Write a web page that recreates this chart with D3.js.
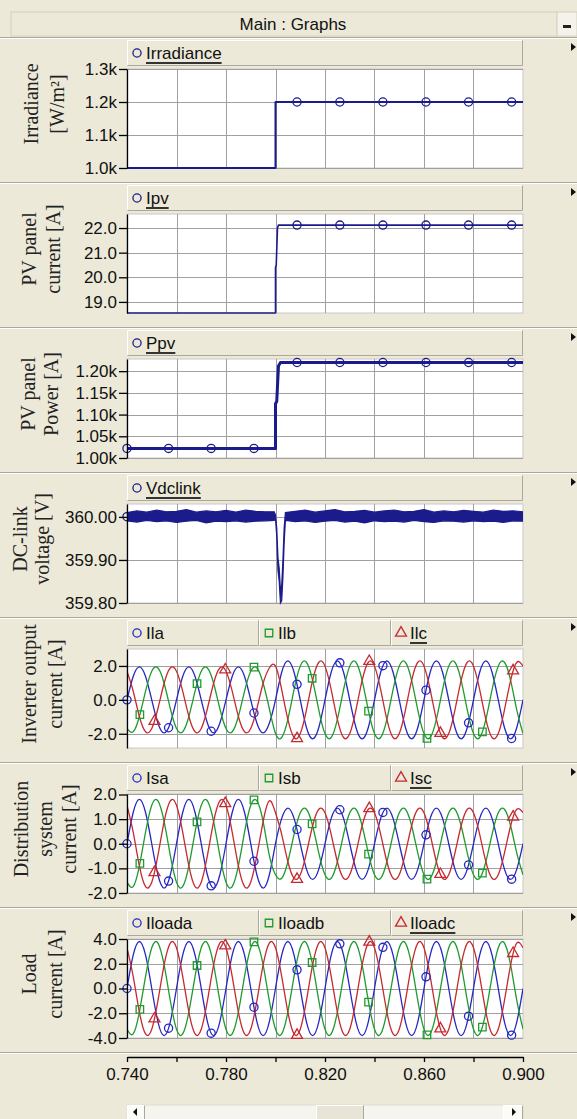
<!DOCTYPE html>
<html>
<head>
<meta charset="utf-8">
<script src="https://cdn.jsdelivr.net/npm/d3@7"></script>
<style>
  html, body { margin: 0; padding: 0; background: #ece9d8; }
  svg { display: block; }
</style>
</head>
<body>
<div id="chart"></div>
<script>
// ---- time axis ----
var xDomain = [0.74, 0.90];
var xGridTicks = [0.74, 0.76, 0.78, 0.80, 0.82, 0.84, 0.86, 0.88, 0.90];
var xLabelTicks = [0.74, 0.78, 0.82, 0.86, 0.90];

// ---- step signals ----
var irrTime = [0.74, 0.80, 0.80, 0.90];
var irrValue = [1000, 1000, 1200, 1200];
var ipvTime = [0.74, 0.80, 0.80, 0.8003, 0.8008, 0.8012, 0.90];
var ipvValue = [18.55, 18.55, 20.4, 20.5, 22.0, 22.12, 22.12];
var ppvTime = [0.74, 0.80, 0.80, 0.8005, 0.8012, 0.802, 0.90];
var ppvValue = [1022, 1022, 1125, 1130, 1212, 1220, 1220];

// ---- DC-link voltage (noise band envelope) ----
var vdcTime = [0.740, 0.744, 0.748, 0.752, 0.756, 0.760, 0.764, 0.768, 0.772, 0.776,
  0.780, 0.784, 0.788, 0.792, 0.796, 0.7995, 0.8000, 0.8005, 0.8010, 0.8015,
  0.8020, 0.8025, 0.8030, 0.8035, 0.8040, 0.808, 0.812, 0.816, 0.820, 0.824,
  0.828, 0.832, 0.836, 0.840, 0.844, 0.848, 0.852, 0.856, 0.860, 0.864,
  0.868, 0.872, 0.876, 0.880, 0.884, 0.888, 0.892, 0.896, 0.900];
var vdcHigh = [360.010, 360.014, 360.011, 360.016, 360.012, 360.013, 360.017, 360.011, 360.014, 360.012,
  360.015, 360.011, 360.016, 360.013, 360.012, 360.012, 360.004, 359.975, 359.905, 359.880,
  359.830, 359.840, 359.900, 359.975, 360.010, 360.013, 360.016, 360.011, 360.014, 360.017,
  360.012, 360.013, 360.015, 360.011, 360.014, 360.016, 360.012, 360.013, 360.017, 360.011,
  360.014, 360.012, 360.015, 360.013, 360.011, 360.016, 360.013, 360.014, 360.012];
var vdcLow = [359.991, 359.988, 359.992, 359.989, 359.991, 359.987, 359.990, 359.992, 359.986, 359.990,
  359.989, 359.991, 359.988, 359.990, 359.991, 359.992, 359.996, 359.955, 359.875, 359.850,
  359.800, 359.805, 359.860, 359.940, 359.992, 359.989, 359.991, 359.987, 359.990, 359.992,
  359.988, 359.990, 359.986, 359.991, 359.989, 359.990, 359.988, 359.992, 359.989, 359.987,
  359.991, 359.990, 359.988, 359.991, 359.989, 359.990, 359.987, 359.991, 359.990];

// ---- three-phase currents, sampled every 2.5 ms ----
var waveTime = [0.7400, 0.7425, 0.7450, 0.7475, 0.7500, 0.7525, 0.7550, 0.7575,
  0.7600, 0.7625, 0.7650, 0.7675, 0.7700, 0.7725, 0.7750, 0.7775,
  0.7800, 0.7825, 0.7850, 0.7875, 0.7900, 0.7925, 0.7950, 0.7975,
  0.8000, 0.8025, 0.8050, 0.8075, 0.8100, 0.8125, 0.8150, 0.8175,
  0.8200, 0.8225, 0.8250, 0.8275, 0.8300, 0.8325, 0.8350, 0.8375,
  0.8400, 0.8425, 0.8450, 0.8475, 0.8500, 0.8525, 0.8550, 0.8575,
  0.8600, 0.8625, 0.8650, 0.8675, 0.8700, 0.8725, 0.8750, 0.8775,
  0.8800, 0.8825, 0.8850, 0.8875, 0.8900, 0.8925, 0.8950, 0.8975,
  0.9000];

var ila = [0, 1.38, 1.95, 1.38, 0, -1.38, -1.95, -1.38,
  0, 1.38, 1.95, 1.38, 0, -1.38, -1.95, -1.38,
  0, 1.38, 1.95, 1.38, 0, -1.38, -1.95, -1.38,
  0, 1.63, 2.3, 1.63, 0, -1.63, -2.3, -1.63,
  0, 1.63, 2.3, 1.63, 0, -1.63, -2.3, -1.63,
  0, 1.63, 2.3, 1.63, 0, -1.63, -2.3, -1.63,
  0, 1.63, 2.3, 1.63, 0, -1.63, -2.3, -1.63,
  0, 1.63, 2.3, 1.63, 0, -1.63, -2.3, -1.63,
  0];
var ilb = [-1.69, -1.88, -0.98, 0.51, 1.69, 1.88, 0.98, -0.51,
  -1.69, -1.88, -0.98, 0.51, 1.69, 1.88, 0.98, -0.51,
  -1.69, -1.88, -0.98, 0.51, 1.69, 1.88, 0.98, -0.51,
  -1.99, -2.22, -1.15, 0.6, 1.99, 2.22, 1.15, -0.6,
  -1.99, -2.22, -1.15, 0.6, 1.99, 2.22, 1.15, -0.6,
  -1.99, -2.22, -1.15, 0.6, 1.99, 2.22, 1.15, -0.6,
  -1.99, -2.22, -1.15, 0.6, 1.99, 2.22, 1.15, -0.6,
  -1.99, -2.22, -1.15, 0.6, 1.99, 2.22, 1.15, -0.6,
  -1.99];
var ilc = [1.69, 0.51, -0.98, -1.88, -1.69, -0.51, 0.98, 1.88,
  1.69, 0.51, -0.98, -1.88, -1.69, -0.51, 0.98, 1.88,
  1.69, 0.51, -0.98, -1.88, -1.69, -0.51, 0.98, 1.88,
  1.99, 0.6, -1.15, -2.22, -1.99, -0.6, 1.15, 2.22,
  1.99, 0.6, -1.15, -2.22, -1.99, -0.6, 1.15, 2.22,
  1.99, 0.6, -1.15, -2.22, -1.99, -0.6, 1.15, 2.22,
  1.99, 0.6, -1.15, -2.22, -1.99, -0.6, 1.15, 2.22,
  1.99, 0.6, -1.15, -2.22, -1.99, -0.6, 1.15, 2.22,
  1.99];

var isa = [0, 1.27, 1.8, 1.27, 0, -1.27, -1.8, -1.27,
  0, 1.27, 1.8, 1.27, 0, -1.27, -1.8, -1.27,
  0, 1.27, 1.8, 1.27, 0, -1.27, -1.8, -1.27,
  0, 1.03, 1.45, 1.03, 0, -1.03, -1.45, -1.03,
  0, 1.03, 1.45, 1.03, 0, -1.03, -1.45, -1.03,
  0, 1.03, 1.45, 1.03, 0, -1.03, -1.45, -1.03,
  0, 1.03, 1.45, 1.03, 0, -1.03, -1.45, -1.03,
  0, 1.03, 1.45, 1.03, 0, -1.03, -1.45, -1.03,
  0];
var isb = [-1.56, -1.74, -0.9, 0.47, 1.56, 1.74, 0.9, -0.47,
  -1.56, -1.74, -0.9, 0.47, 1.56, 1.74, 0.9, -0.47,
  -1.56, -1.74, -0.9, 0.47, 1.56, 1.74, 0.9, -0.47,
  -1.26, -1.4, -0.73, 0.38, 1.26, 1.4, 0.73, -0.38,
  -1.26, -1.4, -0.73, 0.38, 1.26, 1.4, 0.73, -0.38,
  -1.26, -1.4, -0.73, 0.38, 1.26, 1.4, 0.73, -0.38,
  -1.26, -1.4, -0.73, 0.38, 1.26, 1.4, 0.73, -0.38,
  -1.26, -1.4, -0.73, 0.38, 1.26, 1.4, 0.73, -0.38,
  -1.26];
var isc = [1.56, 0.47, -0.9, -1.74, -1.56, -0.47, 0.9, 1.74,
  1.56, 0.47, -0.9, -1.74, -1.56, -0.47, 0.9, 1.74,
  1.56, 0.47, -0.9, -1.74, -1.56, -0.47, 0.9, 1.74,
  1.26, 0.38, -0.73, -1.4, -1.26, -0.38, 0.73, 1.4,
  1.26, 0.38, -0.73, -1.4, -1.26, -0.38, 0.73, 1.4,
  1.26, 0.38, -0.73, -1.4, -1.26, -0.38, 0.73, 1.4,
  1.26, 0.38, -0.73, -1.4, -1.26, -0.38, 0.73, 1.4,
  1.26, 0.38, -0.73, -1.4, -1.26, -0.38, 0.73, 1.4,
  1.26];

var iloada = [0, 2.69, 3.8, 2.69, 0, -2.69, -3.8, -2.69,
  0, 2.69, 3.8, 2.69, 0, -2.69, -3.8, -2.69,
  0, 2.69, 3.8, 2.69, 0, -2.69, -3.8, -2.69,
  0, 2.69, 3.8, 2.69, 0, -2.69, -3.8, -2.69,
  0, 2.69, 3.8, 2.69, 0, -2.69, -3.8, -2.69,
  0, 2.69, 3.8, 2.69, 0, -2.69, -3.8, -2.69,
  0, 2.69, 3.8, 2.69, 0, -2.69, -3.8, -2.69,
  0, 2.69, 3.8, 2.69, 0, -2.69, -3.8, -2.69,
  0];
var iloadb = [-3.29, -3.67, -1.9, 0.98, 3.29, 3.67, 1.9, -0.98,
  -3.29, -3.67, -1.9, 0.98, 3.29, 3.67, 1.9, -0.98,
  -3.29, -3.67, -1.9, 0.98, 3.29, 3.67, 1.9, -0.98,
  -3.29, -3.67, -1.9, 0.98, 3.29, 3.67, 1.9, -0.98,
  -3.29, -3.67, -1.9, 0.98, 3.29, 3.67, 1.9, -0.98,
  -3.29, -3.67, -1.9, 0.98, 3.29, 3.67, 1.9, -0.98,
  -3.29, -3.67, -1.9, 0.98, 3.29, 3.67, 1.9, -0.98,
  -3.29, -3.67, -1.9, 0.98, 3.29, 3.67, 1.9, -0.98,
  -3.29];
var iloadc = [3.29, 0.98, -1.9, -3.67, -3.29, -0.98, 1.9, 3.67,
  3.29, 0.98, -1.9, -3.67, -3.29, -0.98, 1.9, 3.67,
  3.29, 0.98, -1.9, -3.67, -3.29, -0.98, 1.9, 3.67,
  3.29, 0.98, -1.9, -3.67, -3.29, -0.98, 1.9, 3.67,
  3.29, 0.98, -1.9, -3.67, -3.29, -0.98, 1.9, 3.67,
  3.29, 0.98, -1.9, -3.67, -3.29, -0.98, 1.9, 3.67,
  3.29, 0.98, -1.9, -3.67, -3.29, -0.98, 1.9, 3.67,
  3.29, 0.98, -1.9, -3.67, -3.29, -0.98, 1.9, 3.67,
  3.29];

// ---- marker times (PSCAD curve markers) ----
var markTimesA = [0.7400, 0.7568, 0.7740, 0.7913, 0.8087, 0.8260, 0.8434, 0.8608, 0.8780, 0.8954];
var markTimesB = [0.7452, 0.7683, 0.7913, 0.8148, 0.8376, 0.8612, 0.8836];
var markTimesC = [0.7511, 0.7797, 0.8087, 0.8379, 0.8666, 0.8960];

// ---- y ticks ----
var irrTicks = [1000, 1100, 1200, 1300];
var ipvTicks = [19, 20, 21, 22];
var ppvTicks = [1000, 1050, 1100, 1150, 1200];
var vdcTicks = [359.8, 359.9, 360.0];
var invTicks = [-2, 0, 2];
var gridTicks = [-2, -1, 0, 1, 2];
var loadTicks = [-4, -2, 0, 2, 4];

var navy = '#1b1b8c';
var colA = '#2626c2', colB = '#1f9b2e', colC = '#c62a30';

var kFmt1 = function (d) { return (d / 1000).toFixed(1) + 'k'; };
var kFmt2 = function (d) { return (d / 1000).toFixed(2) + 'k'; };
var f1 = function (d) { return d.toFixed(1); };
var f2 = function (d) { return d.toFixed(2); };

var panels = [
  {title: ['Irradiance', '[W/m\u00b2]'], tx: 31, tgap: 26, domain: [1000, 1300], ticks: irrTicks, fmt: kFmt1,
    series: [{name: 'Irradiance', time: irrTime, value: irrValue, color: navy, width: 2, sym: 'circle', marks: markTimesA}]},
  {title: ['PV panel', 'current [A]'], tx: 29, tgap: 24, domain: [18.55, 22.57], ticks: ipvTicks, fmt: f1,
    series: [{name: 'Ipv', time: ipvTime, value: ipvValue, color: navy, width: 1.6, sym: 'circle', marks: markTimesA}]},
  {title: ['PV panel', 'Power [A]'], tx: 28, tgap: 23, domain: [1000, 1228], ticks: ppvTicks, fmt: kFmt2,
    series: [{name: 'Ppv', time: ppvTime, value: ppvValue, color: navy, width: 3, sym: 'circle', marks: markTimesA}]},
  {title: ['DC-link', 'voltage [V]'], tx: 20, tgap: 22, domain: [359.80, 360.03], ticks: vdcTicks, fmt: f2,
    series: [{name: 'Vdclink', band: true, time: vdcTime, high: vdcHigh, low: vdcLow, color: navy, width: 1.2, sym: 'circle', marks: markTimesA}]},
  {title: ['Inverter output', 'current [A]'], tx: 29, tgap: 26, domain: [-2.84, 3.0], ticks: invTicks, fmt: f1,
    series: [
      {name: 'Ila', time: waveTime, value: ila, color: colA, width: 1.3, sym: 'circle', marks: markTimesA, smooth: true},
      {name: 'Ilb', time: waveTime, value: ilb, color: colB, width: 1.3, sym: 'square', marks: markTimesB, smooth: true},
      {name: 'Ilc', time: waveTime, value: ilc, color: colC, width: 1.3, sym: 'triangle', marks: markTimesC, smooth: true}]},
  {title: ['Distribution', 'system', 'current [A]'], tx: 21, tgap: 24, domain: [-2, 2.02], ticks: gridTicks, fmt: f1,
    series: [
      {name: 'Isa', time: waveTime, value: isa, color: colA, width: 1.3, sym: 'circle', marks: markTimesA, smooth: true},
      {name: 'Isb', time: waveTime, value: isb, color: colB, width: 1.3, sym: 'square', marks: markTimesB, smooth: true},
      {name: 'Isc', time: waveTime, value: isc, color: colC, width: 1.3, sym: 'triangle', marks: markTimesC, smooth: true}]},
  {title: ['Load', 'current [A]'], tx: 29, tgap: 26, domain: [-4, 4], ticks: loadTicks, fmt: f1,
    series: [
      {name: 'Iloada', time: waveTime, value: iloada, color: colA, width: 1.3, sym: 'circle', marks: markTimesA, smooth: true},
      {name: 'Iloadb', time: waveTime, value: iloadb, color: colB, width: 1.3, sym: 'square', marks: markTimesB, smooth: true},
      {name: 'Iloadc', time: waveTime, value: iloadc, color: colC, width: 1.3, sym: 'triangle', marks: markTimesC, smooth: true}]}
];

var W = 577, H = 1119;
var px0 = 127, px1 = 523;
var panelStart = 37, panelStep = 145;

var svg = d3.select('#chart').append('svg')
    .attr('width', W)
    .attr('height', H)
    .style('font-family', '"Liberation Sans", Arial, sans-serif');

svg.append('rect').attr('width', W).attr('height', H).attr('fill', '#ece9d8');

var x = d3.scaleLinear().domain(xDomain).range([px0, px1]);

var symbols = {circle: d3.symbolCircle, square: d3.symbolSquare, triangle: d3.symbolTriangle};
var symSize = {circle: 52, square: 56, triangle: 52};

function separator(y) {
  svg.append('line').attr('x1', 0).attr('x2', W).attr('y1', y + 0.5).attr('y2', y + 0.5)
    .attr('stroke', '#aca899');
  svg.append('line').attr('x1', 0).attr('x2', W).attr('y1', y + 1.5).attr('y2', y + 1.5)
    .attr('stroke', '#ffffff');
}

function bevel(g, bx, by, bw, bh, fill) {
  g.append('rect').attr('x', bx).attr('y', by).attr('width', bw).attr('height', bh)
    .attr('fill', fill);
  g.append('path').attr('fill', 'none').attr('stroke', '#ffffff')
    .attr('d', 'M' + (bx + 0.5) + ',' + (by + bh - 1) + 'V' + (by + 0.5) + 'H' + (bx + bw - 1));
  g.append('path').attr('fill', 'none').attr('stroke', '#aca899')
    .attr('d', 'M' + (bx + 0.5) + ',' + (by + bh - 0.5) + 'H' + (bx + bw - 0.5) + 'V' + (by + 0.5));
}

function yOnPath(node, target) {
  var lo = 0, hi = node.getTotalLength();
  for (var k = 0; k < 28; k++) {
    var mid = (lo + hi) / 2;
    if (node.getPointAtLength(mid).x < target) lo = mid; else hi = mid;
  }
  return node.getPointAtLength((lo + hi) / 2).y;
}

// Title bar
svg.append('rect').attr('x', 11).attr('y', 12).attr('width', 546).attr('height', 24)
  .attr('fill', '#ece9d8').attr('stroke', '#d4d0c0');
svg.append('text').attr('x', 293).attr('y', 24).attr('dy', '0.35em')
  .attr('text-anchor', 'middle').style('font-size', '17px').attr('fill', '#111')
  .text('Main : Graphs');
svg.append('rect').attr('x', 557).attr('y', 12).attr('width', 20).attr('height', 24)
  .attr('fill', '#f4f2ea').attr('stroke', '#d4d0c0');
svg.append('rect').attr('x', 563).attr('y', 25).attr('width', 8).attr('height', 3).attr('fill', '#222');
separator(panelStart);

panels.forEach(function (p, i) {
  var top = panelStart + panelStep * i;
  var ly = top + 3, lh = 26;
  var py0 = top + 32, py1 = top + 131;
  var y = d3.scaleLinear().domain(p.domain).range([py1, py0]);
  var g = svg.append('g');

  // Legend bar
  var n = p.series.length, cw = (px1 - px0) / n;
  p.series.forEach(function (s, j) {
    var cx = px0 + j * cw;
    bevel(g, cx, ly, cw, lh, '#ece9d8');
    g.append('path')
      .attr('transform', 'translate(' + (cx + 10) + ',' + (ly + 13) + ')')
      .attr('d', d3.symbol().type(symbols[s.sym]).size(symSize[s.sym])())
      .attr('fill', 'none').attr('stroke', s.color).attr('stroke-width', 1.3);
    var lbl = g.append('text').attr('x', cx + 19).attr('y', ly + 13).attr('dy', '0.36em')
      .style('font-size', '17px').attr('fill', '#111').text(s.name);
    if (j === n - 1) {
      var tw = lbl.node().getComputedTextLength();
      g.append('line').attr('x1', cx + 19).attr('x2', cx + 19 + tw)
        .attr('y1', ly + 23).attr('y2', ly + 23)
        .attr('stroke', '#333').attr('stroke-width', 2);
    }
  });

  // Right pointer
  g.append('path').attr('d', 'M571,' + (ly + 3) + 'L576,' + (ly + 7) + 'L571,' + (ly + 11) + 'Z')
    .attr('fill', '#111');

  // Plot area
  g.append('rect').attr('x', px0).attr('y', py0).attr('width', px1 - px0).attr('height', py1 - py0)
    .attr('fill', '#ffffff').attr('stroke', '#c8c8c8');

  // Grid
  g.append('g').selectAll('line').data(xGridTicks.slice(1, -1)).enter().append('line')
    .attr('x1', function (d) { return Math.round(x(d)) + 0.5; })
    .attr('x2', function (d) { return Math.round(x(d)) + 0.5; })
    .attr('y1', py0).attr('y2', py1)
    .attr('stroke', '#a0a0a0');
  g.append('g').selectAll('line').data(p.ticks).enter().append('line')
    .attr('x1', px0).attr('x2', px1)
    .attr('y1', function (d) { return Math.round(y(d)) + 0.5; })
    .attr('y2', function (d) { return Math.round(y(d)) + 0.5; })
    .attr('stroke', '#a0a0a0');

  var clipId = 'clip' + i;
  svg.append('clipPath').attr('id', clipId).append('rect')
    .attr('x', px0).attr('y', py0 - 2).attr('width', px1 - px0).attr('height', py1 - py0 + 4);
  var plot = g.append('g').attr('clip-path', 'url(#' + clipId + ')');

  // Series
  p.series.forEach(function (s) {
    var pts, pathNode;
    if (s.band) {
      pts = s.time.map(function (t, k) { return {t: t, hi: s.high[k], lo: s.low[k]}; });
      plot.append('path').datum(pts)
        .attr('d', d3.area()
          .x(function (d) { return x(d.t); })
          .y0(function (d) { return y(d.lo); })
          .y1(function (d) { return y(d.hi); }))
        .attr('fill', s.color).attr('stroke', s.color).attr('stroke-width', s.width);
      pathNode = plot.append('path').datum(pts)
        .attr('d', d3.line()
          .x(function (d) { return x(d.t); })
          .y(function (d) { return y((d.hi + d.lo) / 2); }))
        .attr('fill', 'none').attr('stroke', 'none').node();
    } else {
      pts = s.time.map(function (t, k) { return {t: t, v: s.value[k]}; });
      pathNode = plot.append('path').datum(pts)
        .attr('d', d3.line()
          .curve(s.smooth ? d3.curveNatural : d3.curveLinear)
          .x(function (d) { return x(d.t); })
          .y(function (d) { return y(d.v); }))
        .attr('fill', 'none').attr('stroke', s.color).attr('stroke-width', s.width)
        .attr('stroke-linejoin', 'round').node();
    }
    var floorY = y(p.domain[0]);
    var marks = s.marks.map(function (t) { return {px: x(t), py: yOnPath(pathNode, x(t))}; })
      .filter(function (m) { return m.py < floorY - 1; });
    g.append('g').selectAll('path').data(marks).enter().append('path')
      .attr('transform', function (m) { return 'translate(' + m.px + ',' + m.py + ')'; })
      .attr('d', d3.symbol().type(symbols[s.sym]).size(symSize[s.sym])())
      .attr('fill', 'none').attr('stroke', s.color).attr('stroke-width', 1.3);
  });

  // Y axis
  var axis = g.append('g')
    .attr('transform', 'translate(' + px0 + ',0)')
    .call(d3.axisLeft(y).tickValues(p.ticks).tickFormat(p.fmt).tickSize(8).tickSizeOuter(0).tickPadding(2));
  axis.select('.domain').attr('stroke', '#000').attr('stroke-width', 1.3);
  axis.selectAll('.tick line').attr('stroke', '#000').attr('stroke-width', 1.3);
  axis.selectAll('.tick text').style('font-size', '17px')
    .style('font-family', '"Liberation Sans", Arial, sans-serif').attr('fill', '#111');

  // Y title
  var cy = (ly + py1) / 2;
  p.title.forEach(function (line, k) {
    g.append('text')
      .attr('transform', 'translate(' + (p.tx + k * p.tgap) + ',' + cy + ') rotate(-90)')
      .attr('text-anchor', 'middle').attr('dy', '0.35em')
      .style('font-family', '"Liberation Serif", "Times New Roman", serif')
      .style('font-size', '20px').attr('fill', '#222')
      .text(line);
  });

  separator(top + panelStep);
});

// X axis
var xAxisY = panelStart + panelStep * panels.length + 5;
var xa = svg.append('g')
  .attr('transform', 'translate(0,' + xAxisY + ')')
  .call(d3.axisBottom(x).tickValues(xGridTicks)
    .tickFormat(function (d) {
      return xLabelTicks.some(function (v) { return Math.abs(v - d) < 1e-9; }) ? d.toFixed(3) : '';
    })
    .tickSize(5).tickSizeOuter(0).tickPadding(6));
xa.select('.domain').attr('stroke', '#000').attr('stroke-width', 1.3);
xa.selectAll('.tick line').attr('stroke', '#000').attr('stroke-width', 1.3);
xa.selectAll('.tick text').style('font-size', '17px')
  .style('font-family', '"Liberation Sans", Arial, sans-serif').attr('fill', '#111');

// Scroll bar
var sy = 1105, sh = 18;
svg.append('rect').attr('x', px0).attr('y', sy).attr('width', px1 - px0).attr('height', sh)
  .attr('fill', '#f5f4ee').attr('stroke', '#e0ddd0');
var sb = svg.append('g');
bevel(sb, px0, sy, 18, sh, '#fbfbf8');
bevel(sb, px1 - 20, sy, 20, sh, '#fbfbf8');
bevel(sb, 316, sy, 48, sh, '#e8e5d8');
sb.append('path').attr('d', 'M' + (px0 + 6) + ',' + (sy + 7) + 'L' + (px0 + 10) + ',' + (sy + 3) + 'V' + (sy + 11) + 'Z')
  .attr('fill', '#111');
sb.append('path').attr('d', 'M' + (px1 - 7) + ',' + (sy + 7) + 'L' + (px1 - 11) + ',' + (sy + 3) + 'V' + (sy + 11) + 'Z')
  .attr('fill', '#111');
</script>
</body>
</html>
